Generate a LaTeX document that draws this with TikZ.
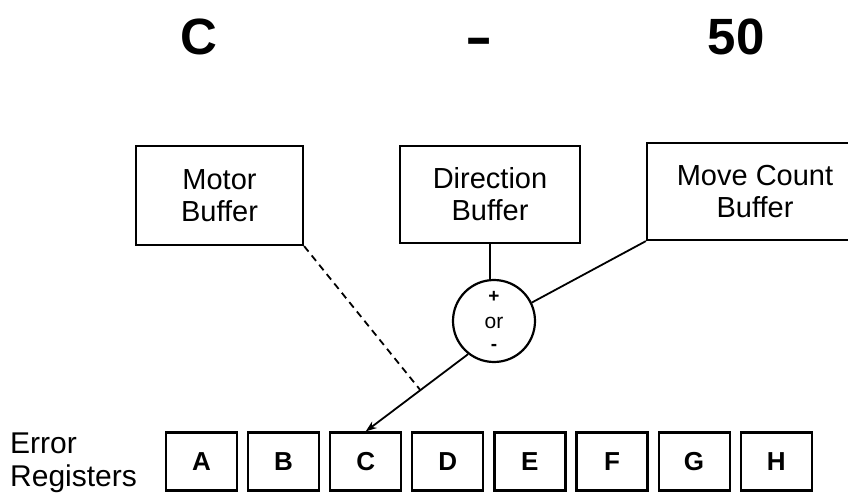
\documentclass[tikz,border=0pt]{standalone}
\usepackage{fontspec}
\setmainfont{Liberation Sans}
\usetikzlibrary{arrows.meta,calc}
\tikzset{
  buf/.style={draw,line width=2.2pt,rectangle,inner sep=0pt,align=center,
    font=\fontsize{29}{32}\selectfont},
  reg/.style={draw,line width=2.2pt,rectangle,minimum width=71pt,minimum height=58pt,
    inner sep=0pt,font=\fontsize{26}{26}\selectfont\bfseries},
  wire/.style={line width=1.8pt},
  title/.style={font=\fontsize{51}{51}\selectfont\bfseries,inner sep=0pt},
  sign/.style={inner sep=0pt,font=\fontsize{19}{19}\selectfont\bfseries}
}
\begin{document}
\begin{tikzpicture}[x=1pt,y=-1pt]
\useasboundingbox (0,0) rectangle (848,497);
\clip (0,0) rectangle (848,497);

% heading
\node[title] (t1) at (199,37) {C};
\node[title] (t2) at (479,46) {\scalebox{1.6}[1]{-}};
\node[title] (t3) at (736,37) {50};

% buffers
\node[buf,minimum width=167pt,minimum height=99pt] (mb) at (219.5,195.5) {Motor\\Buffer};
\node[buf,minimum width=180pt,minimum height=97pt] (db) at (490,194.5) {Direction\\Buffer};
\node[buf,minimum width=216pt,minimum height=97pt] (mc) at (755,191.5) {Move Count\\Buffer};

% sign selector
\node[draw,circle,line width=2.2pt,minimum size=82pt,inner sep=0pt] (sg) at (494,321) {};
\node[sign] (plus) at (494,297) {+};
\node[inner sep=0pt,font=\fontsize{21}{21}\selectfont,anchor=base] (or) at (494,328) {or};
\node[sign] (minus) at (494,347) {-};

% error registers
\node[align=left,anchor=west,inner sep=0pt,font=\fontsize{30}{33}\selectfont] (lbl) at (10,463) {Error\\Registers};
\foreach \n [count=\i from 0] in {A,B,C,D,E,F,G,H}
  \node[reg] (r\n) at ({201.5+82.1*\i},461.5) {\n};

% connections
\draw[wire] (db.south) -- (db.south |- sg.north);
\draw[wire] (sg.26) -- (mc.south west);
\draw[wire,-{Stealth[length=11pt,width=8pt]}] (sg.232) -- (rC.north);
\coordinate (dj) at ($(sg.232)!0.466!(rC.north)$);
\draw[wire,dash pattern=on 7pt off 5pt] (mb.south east) -- (dj);
\end{tikzpicture}
\end{document}
